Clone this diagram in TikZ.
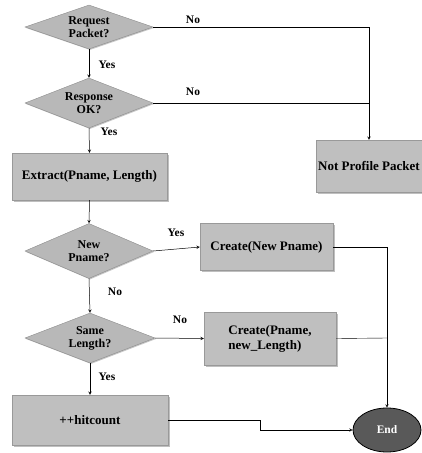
\documentclass[tikz,border=0pt]{standalone}
\usepackage{fontspec}
\setmainfont{Liberation Serif}
\usetikzlibrary{shapes.geometric,shadows}
\tikzset{
	decision/.style={diamond, aspect=3, inner sep=0pt, draw=black!45, fill=black!28, align=center,
		font=\fontsize{12}{13}\selectfont\bfseries,
		drop shadow={shadow xshift=1pt, shadow yshift=-1pt, fill=black!45}},
	process/.style={rectangle, inner sep=2pt, draw=black!40, fill=black!25,
		font=\fontsize{13}{15}\selectfont\bfseries,
		drop shadow={shadow xshift=1.5pt, shadow yshift=-1.5pt, fill=black!50}},
	stop/.style={ellipse, draw=black, line width=0.8pt, fill=black!65, text=white,
		font=\fontsize{11.5}{11.5}\selectfont\bfseries},
	flow/.style={->, >=stealth, line width=0.5pt},
	answer/.style={font=\fontsize{11.5}{11.5}\selectfont\bfseries}
}
\begin{document}
\begin{tikzpicture}[x=1pt, y=-1pt]
		%%%%% START %%%%%
		\useasboundingbox (0, 0) rectangle (422, 453);
		
		\node[decision, minimum width=128pt, minimum height=44pt] (request) at (89, 27) {Request\\Packet?};
		\node[decision, minimum width=128pt, minimum height=50pt] (response) at (89, 103) {Response\\OK?};
		\node[process, minimum width=155pt, minimum height=47pt] (extract) at (89.5, 176.5) {Extract(Pname, Length)};
		\node[process, minimum width=104pt, minimum height=52pt] (notprofile) at (369, 166) {Not Profile Packet};
		
		\node[decision, minimum width=128pt, minimum height=55pt] (newpname) at (89, 251) {New\\Pname?};
		\node[process, minimum width=133pt, minimum height=47pt] (createname) at (266.5, 247) {Create(New Pname)};
		\node[decision, minimum width=130pt, minimum height=50pt] (samelength) at (90, 338) {Same\\Length?};
		\node[process, minimum width=132pt, minimum height=53pt, align=left] (createlength) at (270, 338.5) {Create(Pname,\\new\_Length)};
		\node[process, minimum width=156pt, minimum height=50pt] (hitcount) at (90, 420) {++hitcount};
		\node[stop, minimum width=68pt, minimum height=44pt] (end) at (387, 430) {End};
		
		\coordinate (join) at (370, 103);
		\coordinate (merge) at (387, 338);
		\coordinate (step) at (260, 420);
		
		\draw[flow] (request.east) -| (notprofile.north);
		\draw (response.east) -- (join);
		\draw[flow] (request.south) -- (response.north);
		\draw[flow] (response.south) -- (extract.north);
		\draw[flow] (extract.south) -- (newpname.north);
		
		\draw[flow] (newpname.east) -- (createname.west);
		\draw[flow] (newpname.south) -- (samelength.north);
		\draw[flow] (samelength.east) -- (createlength.west);
		\draw[flow] (samelength.south) -- (hitcount.north);
		
		\draw[flow] (createname.east) -| (end.north);
		\draw (createlength.east) -- (merge);
		\draw[flow] (hitcount.east) -- (step) |- (end.west);
		
		\node[answer] (no1) at (193, 20) {No};
		\node[answer] (yes1) at (107, 65) {Yes};
		\node[answer] (no2) at (193, 92) {No};
		\node[answer] (yes2) at (109, 132) {Yes};
		\node[answer] (yes3) at (176, 233) {Yes};
		\node[answer] (no3) at (115, 292) {No};
		\node[answer] (no4) at (180, 320) {No};
		\node[answer] (yes4) at (107, 377) {Yes};
		
		%%%%% END %%%%%
	\end{tikzpicture}
\end{document}
